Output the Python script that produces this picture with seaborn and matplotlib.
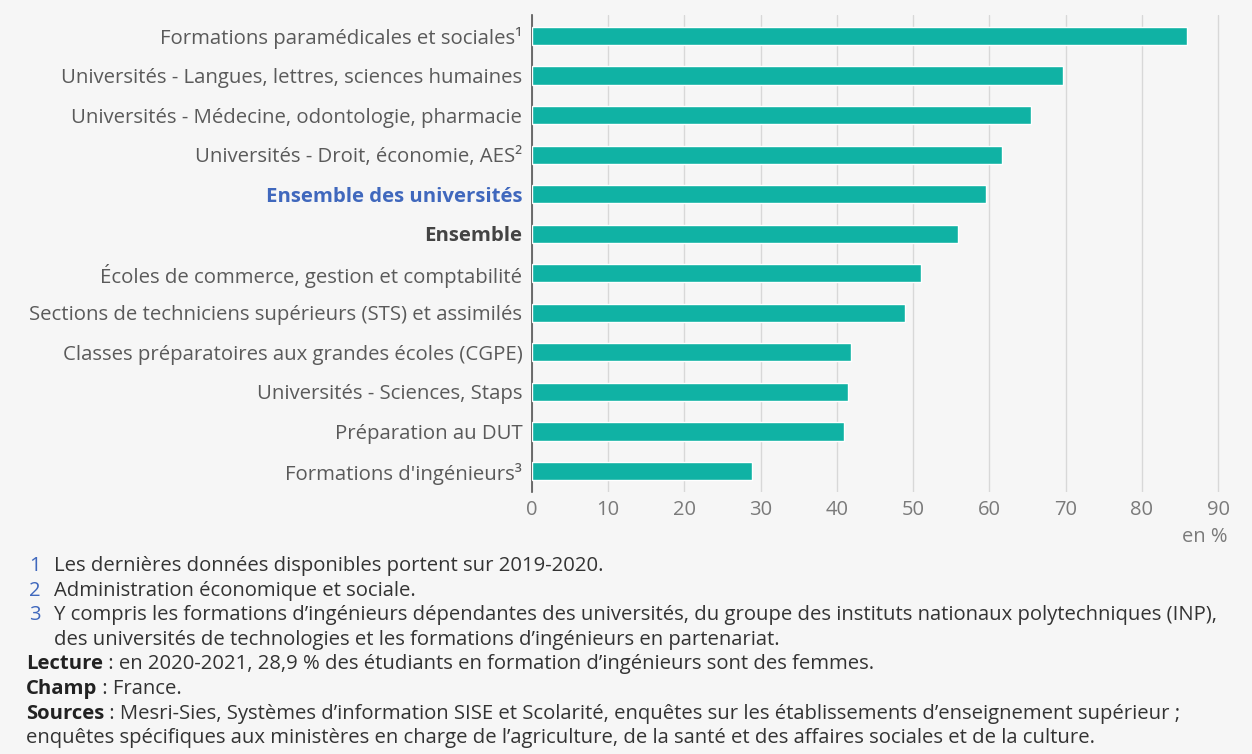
import seaborn as sns
import matplotlib.pyplot as plt
import pandas as pd

categories = [
    "Formations paramédicales et sociales¹",
    "Universités - Langues, lettres, sciences humaines",
    "Universités - Médecine, odontologie, pharmacie",
    "Universités - Droit, économie, AES²",
    "Ensemble des universités",
    "Ensemble",
    "Écoles de commerce, gestion et comptabilité",
    "Sections de techniciens supérieurs (STS) et assimilés",
    "Classes préparatoires aux grandes écoles (CGPE)",
    "Universités - Sciences, Staps",
    "Préparation au DUT",
    "Formations d'ingénieurs³",
]
share_women = [85.9, 69.7, 65.5, 61.6, 59.6, 55.9, 51.0, 48.9, 41.9, 41.4, 40.9, 28.9]
xticks = [0, 10, 20, 30, 40, 50, 60, 70, 80, 90]

notes = [
    ("1", "Les dernières données disponibles portent sur 2019-2020."),
    ("2", "Administration économique et sociale."),
    ("3", "Y compris les formations d’ingénieurs dépendantes des universités, du groupe des instituts nationaux polytechniques (INP),"),
    ("", "des universités de technologies et les formations d’ingénieurs en partenariat."),
]
bold_notes = [
    ("Lecture", " : en 2020-2021, 28,9 % des étudiants en formation d’ingénieurs sont des femmes."),
    ("Champ", " : France."),
    ("Sources", " : Mesri-Sies, Systèmes d’information SISE et Scolarité, enquêtes sur les établissements d’enseignement supérieur ;"),
    ("", "enquêtes spécifiques aux ministères en charge de l’agriculture, de la santé et des affaires sociales et de la culture."),
]

df = pd.DataFrame({"cat": categories, "val": share_women})

sns.set_style("white")
plt.rcParams["font.family"] = ["Open Sans", "DejaVu Sans"]
bg = "#f6f6f6"
teal = "#10b2a4"
blue = "#4068bd"

W, H = 1252, 754
fig = plt.figure(figsize=(W / 100, H / 100), dpi=100, facecolor=bg)
ax = fig.add_axes([532 / W, 1 - 492 / H, (1228 - 532) / W, (492 - 15) / H])
ax.set_facecolor(bg)

sns.barplot(data=df, x="val", y="cat", orient="h", color=teal, width=0.46,
            saturation=1, ax=ax, zorder=3)

ax.set_xlim(0, 91.3)
ax.set_ylim(11.53, -0.53)
ax.set_xticks(xticks)
ax.set_xticklabels([str(t) for t in xticks])
ax.grid(axis="x", color="#d8d8d8", linewidth=1, zorder=0)
ax.set_axisbelow(True)
ax.set_xlabel("")
ax.set_ylabel("")
for s in ["top", "right", "bottom"]:
    ax.spines[s].set_visible(False)
ax.spines["left"].set_color("#555555")
ax.spines["left"].set_linewidth(1.2)
ax.tick_params(axis="x", length=0, pad=6, labelsize=14.5, labelcolor="#7a7a7a")
ax.tick_params(axis="y", length=0, pad=7, labelsize=14.7, labelcolor="#5a5a5a")

for lab in ax.get_yticklabels():
    if lab.get_text() == "Ensemble des universités":
        lab.set_color(blue)
        lab.set_fontweight("bold")
    elif lab.get_text() == "Ensemble":
        lab.set_color("#444444")
        lab.set_fontweight("bold")

fig.text(1228 / W, 1 - 537 / H, "en %", ha="right", va="center",
         fontsize=14.5, color="#7a7a7a")

y0 = 566
step = 24.6
fs = 14.6
line = 0
for num, txt in notes:
    y = 1 - (y0 + line * step) / H
    if num:
        fig.text(29 / W, y, num, ha="left", va="center", fontsize=fs, color=blue)
    fig.text(54 / W, y, txt, ha="left", va="center", fontsize=fs, color="#333333")
    line += 1

for head, txt in bold_notes:
    y = 1 - (y0 + line * step) / H
    if head:
        t = fig.text(26 / W, y, head, ha="left", va="center", fontsize=fs,
                     color="#222222", fontweight="bold")
        ax.annotate(txt, xy=(1, 0.5), xycoords=t, va="center", ha="left",
                    fontsize=fs, color="#333333", annotation_clip=False)
    else:
        fig.text(26 / W, y, txt, ha="left", va="center", fontsize=fs, color="#333333")
    line += 1

fig.savefig("out.png", dpi=100, facecolor=bg)
